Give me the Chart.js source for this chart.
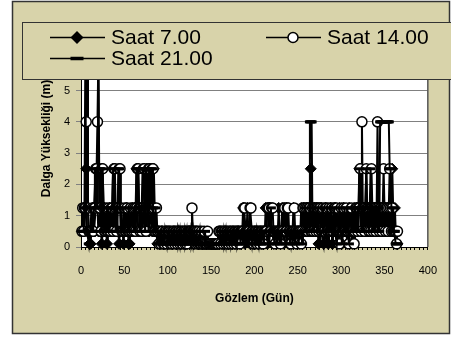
<!DOCTYPE html>
<html>
<head>
<meta charset="utf-8">
<script src="https://cdn.jsdelivr.net/npm/chart.js@4"></script>
<style>
  body { margin: 0; background: #fff; }
  canvas { display: block; }
</style>
</head>
<body>
<canvas id="waveChart" width="451" height="340"></canvas>
<script>
// Daily sea state codes, one per day of the year:
// 1 = 0.1 m, 2 = 0.5 m, 3 = 1.25 m, 4 = 2.5 m, 5 = 4 m, 6 = 6 m
const stateHeights = [0, 0.1, 0.5, 1.25, 2.5, 4, 6];
const seriesNames = ['Saat 7.00', 'Saat 14.00', 'Saat 21.00'];

const saat7 = [
  2,2,3,2,3,4,6,3,2,1, 1,2,3,3,2,2,3,4,3,2, 2,3,2,1,2,3,3,2,2,1,
  2,2,3,2,2,3,4,3,2,2, 3,2,2,1,2,3,2,2,1,2, 2,3,3,2,1,1,2,2,3,2,
  2,3,3,4,3,2,2,3,2,2, 3,3,2,2,3,4,3,2,2,3, 3,2,3,4,3,2,2,1,2,2,
  1,1,2,2,1,1,1,2,2,1, 1,1,2,1,1,1,2,2,1,1, 1,2,2,1,1,1,2,1,1,2,
  2,1,1,2,2,2,1,1,2,1, 1,2,2,1,1,1,1,2,1,1, 1,1,1,1,2,1,1,1,1,1,
  1,1,1,1,1,1,1,1,1,2, 2,1,1,1,1,2,2,1,1,1, 1,2,1,1,2,2,1,1,2,1,
  2,2,1,1,2,2,3,2,1,2, 2,3,2,2,1,2,2,1,1,2, 1,2,2,1,1,2,2,1,1,2,
  2,2,3,2,1,2,3,3,2,2, 2,1,2,2,1,2,2,3,2,2, 2,3,2,1,2,2,3,2,1,1,
  2,2,1,2,3,2,2,1,2,2, 2,1,2,3,2,2,3,2,2,3, 3,2,3,2,4,3,2,2,3,2,
  2,3,2,1,2,2,3,2,2,1, 2,3,2,2,1,2,2,3,2,1, 2,2,3,2,2,1,2,3,2,2,
  1,2,3,2,2,2,1,2,3,3, 2,2,1,2,3,2,2,3,2,3, 4,3,2,3,2,3,3,2,3,2,
  3,2,3,2,3,2,2,3,2,3, 2,2,3,2,3,2,3,2,3,2, 3,2,2,3,3,2,2,3,4,3,
  2,3,2,1,1
];

const saat14 = [
  2,3,2,3,3,5,6,3,2,2, 2,2,3,2,3,3,4,4,5,6, 3,3,2,4,4,3,2,2,3,2,
  2,3,2,2,3,3,2,4,4,3, 2,3,3,4,4,3,2,2,2,3, 2,2,3,2,2,2,3,2,2,3,
  2,3,2,3,4,4,3,2,3,2, 3,4,4,3,2,3,3,4,4,3, 3,4,4,3,2,2,3,2,2,1,
  2,1,2,2,1,1,2,2,1,2, 2,2,1,2,1,2,2,1,2,2, 1,2,2,1,2,2,1,2,2,1,
  2,1,2,2,2,2,2,3,2,2, 2,1,2,2,1,2,1,1,2,1, 1,2,1,1,1,2,1,1,1,1,
  1,1,1,1,1,1,1,1,2,2, 1,2,2,1,2,2,1,2,2,1, 2,2,1,2,2,1,2,2,1,2,
  2,2,1,2,2,2,2,3,3,2, 2,2,2,2,3,3,2,2,1,2, 2,2,1,2,2,1,2,2,2,1,
  2,2,2,2,3,3,3,2,2,3, 3,2,2,1,2,2,2,2,2,1, 2,2,2,3,3,2,2,3,3,2,
  2,1,2,2,2,3,2,2,1,2, 2,2,2,1,2,3,3,2,3,2, 3,2,3,3,2,2,3,2,3,3,
  2,3,3,2,3,3,2,2,3,2, 2,3,3,2,2,3,2,2,3,2, 2,3,3,2,3,2,2,1,2,3,
  2,2,3,2,2,3,2,2,1,2, 2,3,2,2,1,2,3,3,2,3, 3,4,2,5,3,3,2,3,4,3,
  3,2,3,2,4,3,2,3,3,2, 3,5,3,2,3,3,2,3,4,3, 2,3,3,2,3,4,3,2,3,2,
  2,2,2,1,2
];

const saat21 = [
  2,2,2,3,6,3,2,2,1,2, 2,3,2,2,3,4,4,3,3,6, 4,4,3,2,4,3,2,2,2,3,
  2,2,2,3,3,3,4,4,3,2, 3,2,4,4,3,2,2,2,3,2, 2,2,2,2,3,2,2,2,2,2,
  3,2,2,4,4,4,3,2,2,3, 4,4,3,2,4,4,3,2,4,3, 4,4,3,2,2,3,2,2,1,2,
  1,1,2,1,1,2,1,1,1,2, 1,2,1,1,2,1,1,2,1,1, 2,1,1,2,1,2,1,1,2,1,
  1,2,1,1,2,1,2,2,1,2, 1,1,2,1,1,1,2,1,1,1, 1,1,2,1,1,1,1,1,1,1,
  1,1,1,1,1,1,1,1,1,1, 2,1,1,2,1,1,2,1,2,2, 1,1,2,1,1,2,1,2,2,1,
  1,2,2,1,2,2,1,2,2,2, 1,2,1,2,2,2,1,2,2,1, 2,1,2,2,1,2,1,1,2,2,
  1,2,2,2,2,2,1,2,3,2, 2,2,1,2,2,1,2,2,1,2, 1,2,2,2,2,2,1,2,2,2,
  1,2,2,1,2,2,1,2,2,2, 1,2,2,2,1,2,2,2,3,2, 2,2,2,5,5,5,2,3,2,2,
  2,2,3,2,2,1,2,2,3,2, 2,2,1,3,2,2,2,3,2,1, 2,3,2,2,1,2,2,3,2,2,
  1,2,2,3,2,2,3,2,1,2, 2,2,3,2,2,3,2,2,3,2, 4,3,3,2,3,2,3,3,4,3,
  3,2,3,4,3,2,3,2,3,3, 3,2,3,2,5,5,5,5,5,5, 5,5,5,5,5,4,4,3,2,3,
  2,2,1,1,1
];

const xTickLabels = [0, 50, 100, 150, 200, 250, 300, 350, 400];
const yTickLabels = [0, 1, 2, 3, 4, 5];
const xMinorStep = 5;

const beige = '#d8d3aa';
const fontFamily = '"Liberation Sans", Arial, sans-serif';

function toPoints(codes) {
  return codes.map((c, i) => ({ x: i + 1, y: stateHeights[c] }));
}

// small marker shapes for the hand drawn legend
function drawMarker(ctx, style, x, y) {
  ctx.save();
  ctx.strokeStyle = '#000';
  ctx.fillStyle = '#000';
  if (style === 'rectRot') {
    ctx.beginPath();
    ctx.moveTo(x, y - 6.5);
    ctx.lineTo(x + 6.5, y);
    ctx.lineTo(x, y + 6.5);
    ctx.lineTo(x - 6.5, y);
    ctx.closePath();
    ctx.fill();
  } else if (style === 'circle') {
    ctx.fillStyle = '#fff';
    ctx.lineWidth = 1.5;
    ctx.beginPath();
    ctx.arc(x, y, 5, 0, Math.PI * 2);
    ctx.fill();
    ctx.stroke();
  } else {
    ctx.lineWidth = 3.5;
    ctx.beginPath();
    ctx.moveTo(x - 6.5, y);
    ctx.lineTo(x + 6.5, y);
    ctx.stroke();
  }
  ctx.restore();
}

const framePlugin = {
  id: 'frame',
  beforeDraw(chart) {
    const ctx = chart.ctx;
    const a = chart.chartArea;
    ctx.save();
    ctx.fillStyle = '#fff';
    ctx.fillRect(0, 0, chart.width, chart.height);
    ctx.fillStyle = beige;
    ctx.fillRect(12.5, 1.5, 437, 332);
    ctx.strokeStyle = '#333';
    ctx.lineWidth = 1.5;
    ctx.strokeRect(12.5, 1.5, 437, 332);
    ctx.fillStyle = '#fff';
    ctx.fillRect(a.left, a.top, a.right - a.left, a.bottom - a.top);
    ctx.restore();
  },
  beforeDatasetsDraw(chart) {
    const ctx = chart.ctx;
    const a = chart.chartArea;
    ctx.save();
    ctx.strokeStyle = '#555';
    ctx.lineWidth = 1.5;
    ctx.beginPath();
    ctx.moveTo(a.right, a.top);
    ctx.lineTo(a.right, a.bottom);
    ctx.stroke();
    ctx.restore();
  },
  afterDraw(chart) {
    const ctx = chart.ctx;
    const a = chart.chartArea;
    ctx.save();

    // legend box sits over the top of the plot area
    ctx.fillStyle = beige;
    ctx.fillRect(22.5, 22.5, 440, 57);
    ctx.strokeStyle = '#333';
    ctx.lineWidth = 1;
    ctx.strokeRect(22.5, 22.5, 440, 57);

    const items = [
      { style: 'rectRot', x: 50, y: 37.5 },
      { style: 'circle', x: 266, y: 37.5 },
      { style: 'line', x: 50, y: 58.5 }
    ];
    ctx.font = '21px ' + fontFamily;
    ctx.textBaseline = 'middle';
    ctx.textAlign = 'left';
    items.forEach((it, i) => {
      ctx.strokeStyle = '#000';
      ctx.lineWidth = 1.5;
      ctx.beginPath();
      ctx.moveTo(it.x, it.y);
      ctx.lineTo(it.x + 55, it.y);
      ctx.stroke();
      drawMarker(ctx, it.style, it.x + 27, it.y);
      ctx.fillStyle = '#000';
      ctx.fillText(seriesNames[i], it.x + 61, it.y + 1);
    });

    // axis titles
    ctx.font = 'bold 12px ' + fontFamily;
    ctx.textAlign = 'center';
    ctx.fillText('Gözlem (Gün)', (a.left + a.right) / 2, 299);
    ctx.translate(46.5, 138.5);
    ctx.rotate(-Math.PI / 2);
    ctx.fillText('Dalga Yüksekliği (m)', 0, 0);
    ctx.restore();
  }
};

const styles = [
  { pointStyle: 'rectRot', pointRadius: 5.5, pointBackgroundColor: '#000', pointBorderWidth: 1, order: 3 },
  { pointStyle: 'circle', pointRadius: 5, pointBackgroundColor: '#fff', pointBorderWidth: 1.5, order: 2 },
  { pointStyle: 'line', pointRadius: 5, pointBackgroundColor: '#000', pointBorderWidth: 3, order: 1 }
];
const seriesData = [saat7, saat14, saat21];

const datasets = seriesData.map((codes, i) => Object.assign({
  label: seriesNames[i],
  data: toPoints(codes),
  borderColor: '#000',
  borderWidth: 2,
  pointBorderColor: '#000',
  clip: false
}, styles[i]));

new Chart(document.getElementById('waveChart'), {
  type: 'line',
  data: { datasets: datasets },
  options: {
    responsive: false,
    animation: false,
    layout: { padding: { left: 0, right: 9, top: 28, bottom: 0 } },
    plugins: {
      legend: { display: false },
      tooltip: { enabled: false }
    },
    scales: {
      x: {
        type: 'linear',
        min: 0,
        max: 400,
        afterBuildTicks: scale => {
          const ticks = [];
          for (let v = 0; v <= 400; v += xMinorStep) ticks.push({ value: v });
          scale.ticks = ticks;
        },
        afterFit: scale => { scale.height = 93; },
        ticks: {
          autoSkip: false,
          maxRotation: 0,
          padding: 14,
          color: '#000',
          font: { family: fontFamily, size: 11 },
          callback: v => xTickLabels.includes(v) ? String(v) : ''
        },
        grid: { drawOnChartArea: false, tickLength: 3, color: '#000' },
        border: { color: '#000', width: 1 }
      },
      y: {
        min: 0,
        max: 7,
        afterFit: scale => { scale.width = 81; },
        ticks: {
          stepSize: 1,
          padding: 6,
          color: '#000',
          font: { family: fontFamily, size: 11 },
          callback: v => yTickLabels.includes(v) ? String(v) : ''
        },
        grid: { color: '#808080', lineWidth: 1, tickLength: 5 },
        border: { color: '#000', width: 1 }
      }
    }
  },
  plugins: [framePlugin]
});
</script>
</body>
</html>
